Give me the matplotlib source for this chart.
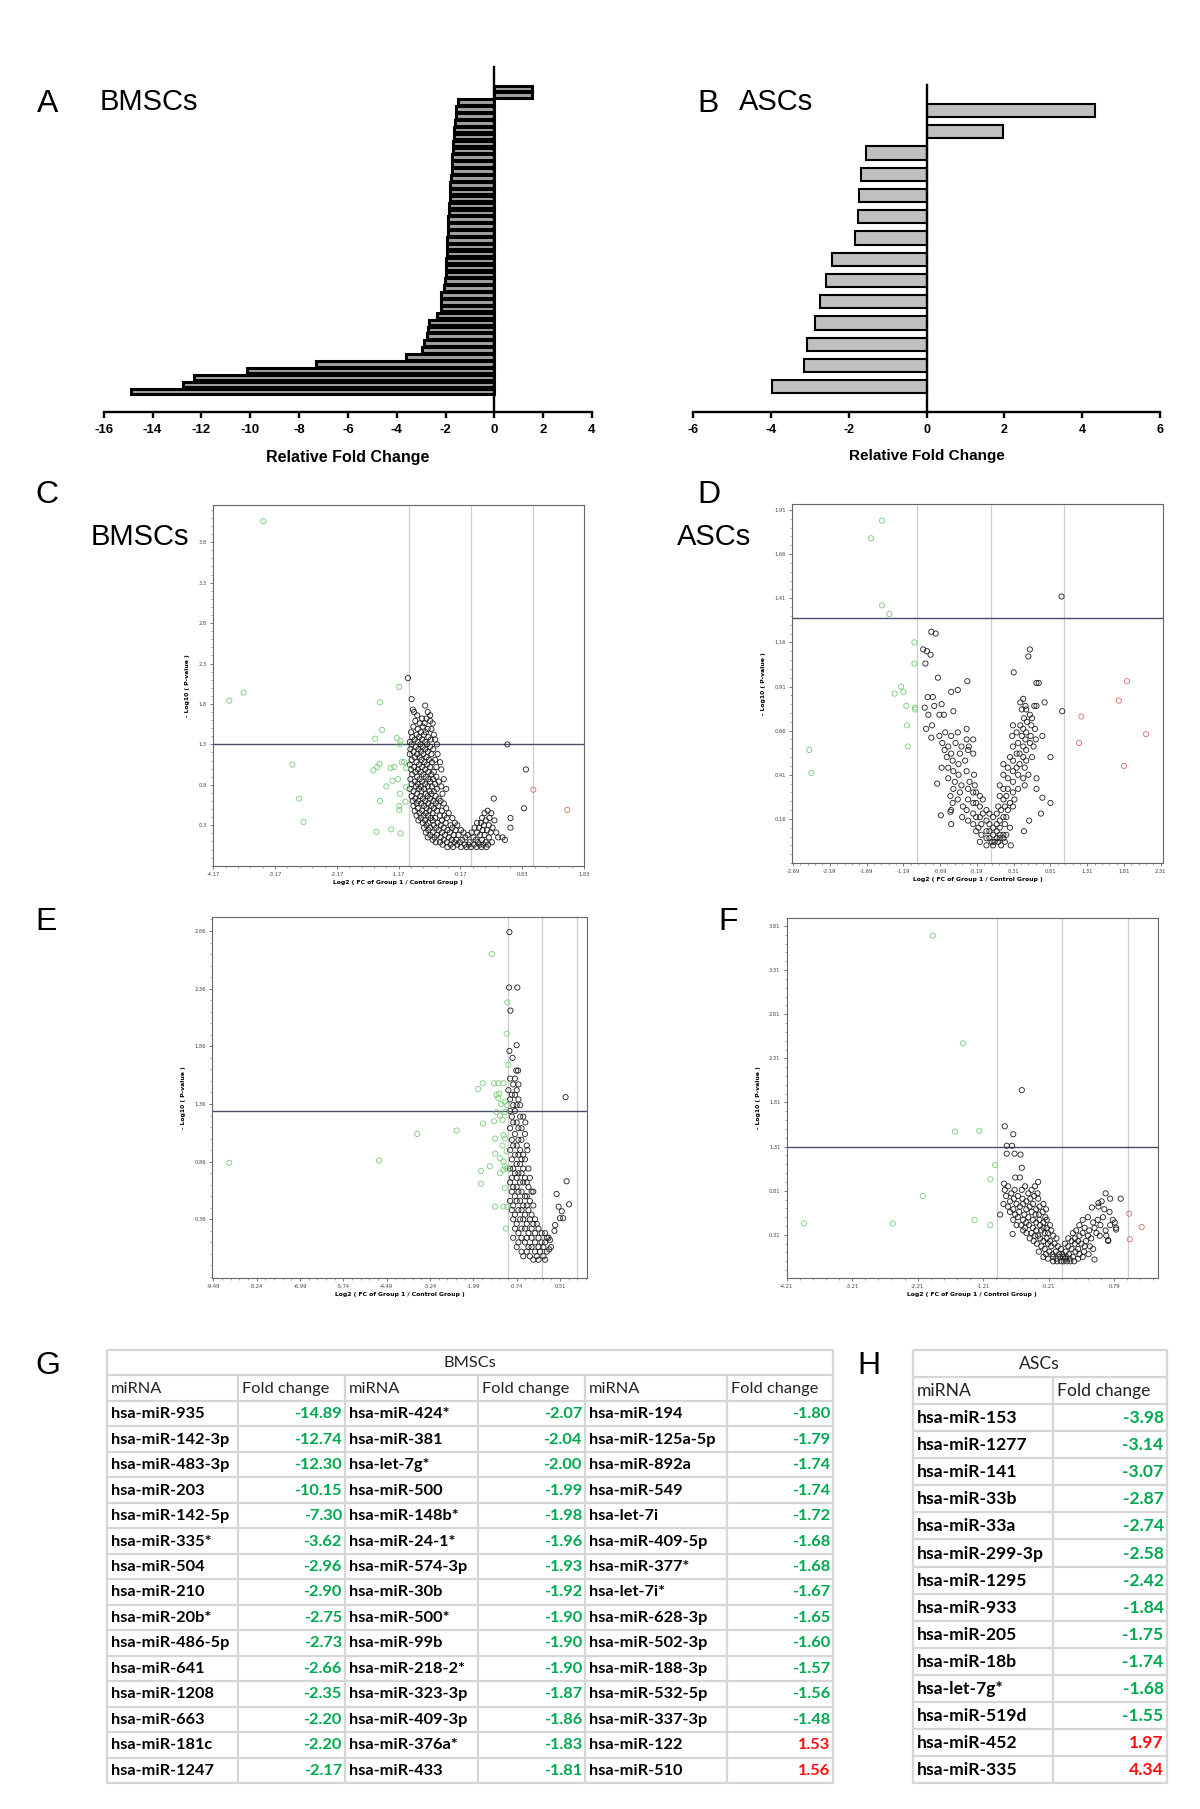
import matplotlib.pyplot as plt
from matplotlib.ticker import AutoMinorLocator, FixedLocator

# ── Table data (G: BMSCs, H: ASCs) ────────────────────────────────────────────
BMSC_MIRNA = [
    "hsa-miR-935", "hsa-miR-142-3p", "hsa-miR-483-3p", "hsa-miR-203", "hsa-miR-142-5p",
    "hsa-miR-335*", "hsa-miR-504", "hsa-miR-210", "hsa-miR-20b*", "hsa-miR-486-5p",
    "hsa-miR-641", "hsa-miR-1208", "hsa-miR-663", "hsa-miR-181c", "hsa-miR-1247",
    "hsa-miR-424*", "hsa-miR-381", "hsa-let-7g*", "hsa-miR-500", "hsa-miR-148b*",
    "hsa-miR-24-1*", "hsa-miR-574-3p", "hsa-miR-30b", "hsa-miR-500*", "hsa-miR-99b",
    "hsa-miR-218-2*", "hsa-miR-323-3p", "hsa-miR-409-3p", "hsa-miR-376a*", "hsa-miR-433",
    "hsa-miR-194", "hsa-miR-125a-5p", "hsa-miR-892a", "hsa-miR-549", "hsa-let-7i",
    "hsa-miR-409-5p", "hsa-miR-377*", "hsa-let-7i*", "hsa-miR-628-3p", "hsa-miR-502-3p",
    "hsa-miR-188-3p", "hsa-miR-532-5p", "hsa-miR-337-3p", "hsa-miR-122", "hsa-miR-510",
]
BMSC_FC = [
    -14.89, -12.74, -12.30, -10.15, -7.30, -3.62, -2.96, -2.90, -2.75, -2.73,
    -2.66, -2.35, -2.20, -2.20, -2.17,
    -2.07, -2.04, -2.00, -1.99, -1.98, -1.96, -1.93, -1.92, -1.90, -1.90,
    -1.90, -1.87, -1.86, -1.83, -1.81,
    -1.80, -1.79, -1.74, -1.74, -1.72, -1.68, -1.68, -1.67, -1.65, -1.60,
    -1.57, -1.56, -1.48, 1.53, 1.56,
]
ASC_MIRNA = [
    "hsa-miR-153", "hsa-miR-1277", "hsa-miR-141", "hsa-miR-33b", "hsa-miR-33a",
    "hsa-miR-299-3p", "hsa-miR-1295", "hsa-miR-933", "hsa-miR-205", "hsa-miR-18b",
    "hsa-let-7g*", "hsa-miR-519d", "hsa-miR-452", "hsa-miR-335",
]
ASC_FC = [-3.98, -3.14, -3.07, -2.87, -2.74, -2.58, -2.42, -1.84, -1.75, -1.74,
          -1.68, -1.55, 1.97, 4.34]

# ── Bar axes ticks ────────────────────────────────────────────────────────────
A_XTICKS = [-16, -14, -12, -10, -8, -6, -4, -2, 0, 2, 4]
B_XTICKS = [-6, -4, -2, 0, 2, 4, 6]

# ── Volcano C (BMSCs) ─────────────────────────────────────────────────────────
C_XTICKS = [-4.17, -3.17, -2.17, -1.17, -0.17, 0.83, 1.83]
C_YTICKS = [0.3, 0.8, 1.3, 1.8, 2.3, 2.8, 3.3, 3.8]
C_GREEN_X = [-3.36, -3.91, -3.68, -2.89, -2.78, -2.71, -1.16, -1.47, -1.44, -1.55, -1.20,
             -1.14, -1.15, -1.48, -1.52, -1.58, -1.30, -1.24, -1.12, -1.08, -1.05, -1.27,
             -1.18, -1.37, -1.05, -1.15, -1.47, -1.06, -1.16, -1.16, -1.53, -1.29, -1.14]
C_GREEN_Y = [4.06, 1.84, 1.94, 1.05, 0.63, 0.34, 2.01, 1.82, 1.48, 1.37, 1.38,
             1.34, 1.30, 1.06, 1.02, 0.98, 1.01, 1.02, 1.08, 1.08, 1.01, 0.85,
             0.87, 0.78, 0.77, 0.69, 0.60, 0.59, 0.54, 0.49, 0.22, 0.25, 0.20]
C_RED_X = [1.01, 1.56]
C_RED_Y = [0.74, 0.49]
C_BLACK_ROWS = [
    (2.12, [-1.02]), (1.86, [-0.96]), (1.78, [-0.74]), (1.73, [-0.94]),
    (1.70, [-0.92, -0.70]), (1.66, [-0.87, -0.66]), (1.62, [-0.79, -0.72]),
    (1.59, [-0.90, -0.66]), (1.56, [-0.83, -0.75, -0.62]), (1.52, [-0.93, -0.78]),
    (1.49, [-0.86, -0.70, -0.64]), (1.45, [-0.97, -0.81, -0.73]),
    (1.42, [-0.88, -0.76, -0.60]), (1.39, [-0.95, -0.84, -0.69]),
    (1.36, [-0.91, -0.79, -0.65, -0.58]), (1.33, [-0.99, -0.86, -0.74]),
    (1.30, [-0.96, -0.82, -0.71, -0.55, 0.59]), (1.27, [-0.89, -0.78, -0.66]),
    (1.24, [-0.98, -0.85, -0.74, -0.61]), (1.21, [-0.93, -0.81, -0.70]),
    (1.18, [-0.99, -0.87, -0.77, -0.64, -0.54]), (1.14, [-0.91, -0.83, -0.72]),
    (1.11, [-0.96, -0.80, -0.68, -0.58]), (1.08, [-0.88, -0.75, -0.63, -0.50]),
    (1.05, [-0.99, -0.84, -0.71]), (1.02, [-0.92, -0.79, -0.66, -0.56]),
    (0.99, [-0.97, -0.86, -0.74, -0.48, 0.89]), (0.96, [-0.90, -0.81, -0.69, -0.60]),
    (0.93, [-0.95, -0.77, -0.64]), (0.90, [-0.87, -0.73, -0.56]),
    (0.87, [-0.98, -0.83, -0.69, -0.61, -0.44]), (0.84, [-0.91, -0.79, -0.66, -0.52]),
    (0.81, [-0.96, -0.86, -0.74, -0.58]), (0.78, [-0.89, -0.81, -0.70, -0.63, -0.48]),
    (0.75, [-0.99, -0.84, -0.76, -0.55, -0.40]), (0.72, [-0.93, -0.80, -0.67, -0.60]),
    (0.69, [-0.87, -0.73, -0.64, -0.46]), (0.66, [-0.96, -0.82, -0.70, -0.57]),
    (0.63, [-0.90, -0.78, -0.66, -0.52, 0.37]), (0.60, [-0.94, -0.85, -0.74, -0.61, -0.49]),
    (0.57, [-0.88, -0.80, -0.69, -0.57, -0.44]), (0.54, [-0.93, -0.76, -0.64, -0.53]),
    (0.51, [-0.86, -0.72, -0.60, -0.40, 0.86]),
    (0.48, [-0.91, -0.79, -0.67, -0.55, -0.47, 0.27]),
    (0.45, [-0.83, -0.73, -0.62, -0.36, 0.22, 0.33]),
    (0.42, [-0.88, -0.77, -0.69, -0.50, -0.43]),
    (0.39, [-0.81, -0.65, -0.58, -0.39, -0.30, 0.18, 0.30, 0.64]),
    (0.36, [-0.85, -0.74, -0.62, -0.47, 0.24, 0.38]),
    (0.33, [-0.78, -0.69, -0.54, -0.41, -0.26, 0.10, 0.16]),
    (0.30, [-0.72, -0.60, -0.49, -0.33, -0.22, 0.21, 0.29]),
    (0.27, [-0.76, -0.66, -0.56, -0.44, -0.30, 0.06, 0.13, 0.35, 0.64]),
    (0.24, [-0.69, -0.52, -0.38, -0.25, -0.16, 0.19, 0.26]),
    (0.21, [-0.73, -0.62, -0.47, -0.34, -0.12, 0.01, 0.10, 0.32, 0.41]),
    (0.18, [-0.66, -0.55, -0.42, -0.28, -0.20, -0.05, 0.15, 0.22]),
    (0.15, [-0.70, -0.59, -0.49, -0.36, -0.09, 0.04, 0.29, 0.44, 0.51]),
    (0.12, [-0.62, -0.44, -0.31, -0.24, -0.14, 0.08, 0.18, 0.55]),
    (0.09, [-0.57, -0.50, -0.39, -0.27, -0.18, -0.02, 0.11, 0.24, 0.34]),
    (0.06, [-0.46, -0.33, -0.22, -0.10, -0.04, 0.05, 0.14, 0.20, 0.28]),
    (0.03, [-0.38, -0.29, -0.16, -0.07, 0.00, 0.09, 0.17, 0.25]),
]

# ── Volcano D (ASCs) ──────────────────────────────────────────────────────────
D_XTICKS = [-2.69, -2.19, -1.69, -1.19, -0.69, -0.19, 0.31, 0.81, 1.31, 1.81, 2.31]
D_YTICKS = [0.16, 0.41, 0.66, 0.91, 1.16, 1.41, 1.66, 1.91]
D_GREEN_X = [-1.48, -1.63, -1.48, -1.38, -1.04, -1.04, -1.22, -1.31, -1.19, -1.15, -1.03,
             -1.03, -1.14, -1.13, -2.47, -2.44]
D_GREEN_Y = [1.85, 1.75, 1.37, 1.32, 1.16, 1.04, 0.91, 0.87, 0.88, 0.80, 0.79,
             0.78, 0.69, 0.57, 0.55, 0.42]
D_RED_X = [1.85, 1.74, 1.23, 2.11, 1.20, 1.81]
D_RED_Y = [0.94, 0.83, 0.74, 0.64, 0.59, 0.46]
D_BLACK_X = [0.96, -0.81, -0.75, -0.92, -0.87, -0.82, -0.89, 0.53, 0.51, 0.31, -0.72, -0.32,
             0.62, 0.65, -0.54, -0.45, -0.86, -0.79, -0.67, -0.90, -0.77, 0.73, 0.59, 0.62,
             0.97, 0.81, -0.51, -0.64, -0.70, -0.85, -0.88, -0.80, -0.81, -0.73, -0.68, -0.54,
             -0.55, 0.68, 0.52, 0.45, 0.70, 0.81, 0.62]
D_BLACK_Y = [1.42, 1.22, 1.21, 1.12, 1.11, 1.09, 1.04, 1.12, 1.08, 0.99, 0.96, 0.94,
             0.93, 0.93, 0.88, 0.89, 0.85, 0.85, 0.81, 0.79, 0.80, 0.82, 0.80, 0.80,
             0.77, 0.51, 0.77, 0.75, 0.75, 0.75, 0.67, 0.69, 0.62, 0.36, 0.18, 0.13,
             0.20, 0.19, 0.15, 0.09, 0.28, 0.25, 0.33]
D_BLACK_ROWS = [
    (0.84, [0.44]), (0.82, [0.40]), (0.80, [0.47]), (0.78, [0.42, 0.48]), (0.75, [0.53]),
    (0.73, [0.45, 0.56]), (0.71, [0.49]), (0.69, [0.30, 0.40, 0.55]),
    (0.67, [-0.33, 0.44, 0.60]), (0.65, [-0.62, -0.45, 0.35, 0.48]),
    (0.63, [-0.70, -0.54, 0.29, 0.42, 0.54, 0.70]), (0.61, [-0.33, -0.24, 0.47, 0.61]),
    (0.59, [-0.66, -0.48, 0.37, 0.53]), (0.57, [-0.58, -0.40, -0.30, 0.30, 0.44, 0.58]),
    (0.55, [-0.63, -0.31, 0.48]), (0.53, [-0.54, -0.42, -0.24, 0.35, 0.39]),
    (0.51, [-0.60, 0.26, 0.44, 0.56]), (0.49, [-0.52, -0.35, 0.30, 0.48]),
    (0.47, [-0.44, 0.17, 0.39]), (0.45, [-0.67, -0.58, 0.23, 0.35, 0.46]),
    (0.43, [-0.51, -0.33, 0.30]), (0.41, [-0.44, -0.23, 0.17, 0.37, 0.51]),
    (0.39, [-0.58, 0.23, 0.44, 0.62]), (0.37, [-0.49, -0.29, 0.30]),
    (0.35, [-0.40, -0.22, 0.12, 0.46]), (0.33, [-0.51, -0.31, 0.17, 0.23, 0.37]),
    (0.31, [-0.42, -0.24, -0.20, 0.30]), (0.29, [-0.55, -0.15, 0.12, 0.21]),
    (0.27, [-0.45, -0.31, -0.11, 0.17, 0.32]), (0.25, [-0.52, -0.24, -0.20, 0.26]),
    (0.23, [-0.38, -0.15, 0.10, 0.19, 0.30]), (0.21, [-0.54, -0.33, -0.06, 0.14, 0.23]),
    (0.19, [-0.24, -0.11, -0.02, 0.08]), (0.17, [-0.39, -0.20, -0.15, 0.03, 0.17, 0.21]),
    (0.15, [-0.31, -0.06, 0.12]), (0.13, [-0.24, -0.13, -0.02, 0.08, 0.19]),
    (0.11, [-0.17, 0.03, 0.12, 0.26]), (0.09, [-0.20, -0.06, -0.02, 0.08]),
    (0.07, [-0.13, 0.03, 0.12, 0.17, 0.21]), (0.05, [-0.06, -0.02, 0.08, 0.12, 0.17]),
    (0.03, [-0.15, 0.01, 0.05, 0.10, 0.19]), (0.01, [-0.06, 0.03, 0.14, 0.27]),
]

# ── Volcano E (BMSCs) ─────────────────────────────────────────────────────────
E_XTICKS = [-9.49, -8.24, -6.99, -5.74, -4.49, -3.24, -1.99, -0.74, 0.51]
E_YTICKS = [0.36, 0.86, 1.36, 1.86, 2.36, 2.86]
E_GREEN_X = [-1.46, -1.01, -1.03, -0.98, -9.03, -4.71, -3.61, -2.47, -1.85, -1.72, -1.71,
             -1.39, -1.27, -1.12, -1.32, -1.24, -1.27, -1.19, -1.08, -1.01, -1.08, -1.32,
             -1.22, -1.15, -1.39, -1.12, -1.07, -1.36, -1.15, -1.03, -1.36, -1.22, -1.51,
             -1.12, -1.08, -1.03, -1.12, -1.77, -1.22, -1.77, -1.08, -1.36, -1.12, -1.05,
             -1.01]
E_GREEN_Y = [2.66, 2.24, 1.97, 1.70, 0.85, 0.87, 1.10, 1.13, 1.49, 1.54, 1.19,
             1.54, 1.54, 1.54, 1.44, 1.45, 1.41, 1.36, 1.38, 1.35, 1.29, 1.29,
             1.26, 1.22, 1.21, 1.09, 1.06, 1.06, 1.00, 0.95, 0.93, 0.89, 0.82,
             0.86, 0.82, 0.80, 0.79, 0.78, 0.76, 0.67, 0.63, 0.47, 0.47, 0.28,
             0.47]
E_BLACK_X = [-0.95, -0.96, -0.72, -0.92, -0.74, -0.95, -0.86, -0.75, -0.70, 0.67, 0.70,
             0.41, 0.77, 0.47, 0.56, 0.51, 0.60, 0.37, 0.35, 0.18, 0.22, 0.20, 0.25]
E_BLACK_Y = [2.85, 2.37, 2.37, 2.17, 1.87, 1.82, 1.76, 1.65, 1.65, 1.42, 0.69,
             0.58, 0.49, 0.47, 0.43, 0.37, 0.37, 0.31, 0.26, 0.20, 0.18, 0.10, 0.12]
E_BLACK_ROWS = [
    (1.58, [-0.93, -0.79]), (1.53, [-0.84, -0.69]), (1.48, [-0.98, -0.74]),
    (1.44, [-0.88, -0.79]), (1.40, [-0.93, -0.69]), (1.35, [-0.84, -0.74, -0.64]),
    (1.30, [-0.93, -0.79]), (1.25, [-0.88, -0.64, -0.55]), (1.20, [-0.84, -0.74, -0.49]),
    (1.15, [-0.93, -0.69, -0.60]), (1.10, [-0.79, -0.50]), (1.05, [-0.88, -0.69, -0.60]),
    (1.00, [-0.84, -0.74, -0.45]), (0.96, [-0.93, -0.64, -0.43]),
    (0.92, [-0.79, -0.69, -0.55]), (0.88, [-0.88, -0.60, -0.50]), (0.84, [-0.74, -0.64]),
    (0.80, [-0.93, -0.84, -0.55, -0.40]), (0.76, [-0.79, -0.69, -0.60]),
    (0.72, [-0.88, -0.74, -0.50, -0.36]), (0.68, [-0.93, -0.64, -0.55, -0.45]),
    (0.64, [-0.84, -0.74, -0.40]), (0.60, [-0.88, -0.69, -0.60, -0.31, -0.26]),
    (0.56, [-0.79, -0.50, -0.45]), (0.52, [-0.93, -0.74, -0.64, -0.36]),
    (0.48, [-0.84, -0.55, -0.45, -0.26]), (0.44, [-0.88, -0.69, -0.60, -0.40]),
    (0.40, [-0.79, -0.50, -0.31]), (0.36, [-0.84, -0.64, -0.55, -0.36, -0.21]),
    (0.32, [-0.74, -0.45, -0.26, -0.16]), (0.28, [-0.79, -0.60, -0.50, -0.31, -0.11]),
    (0.24, [-0.69, -0.40, -0.21, -0.02, 0.08]),
    (0.20, [-0.84, -0.60, -0.45, -0.31, -0.11, 0.13]),
    (0.16, [-0.69, -0.50, -0.21, -0.02, 0.08]), (0.12, [-0.74, -0.40, -0.31, -0.11, 0.03]),
    (0.08, [-0.60, -0.45, -0.21, -0.07, 0.13]), (0.04, [-0.55, -0.36, -0.16, 0.03]),
    (0.01, [-0.26, -0.11, 0.08]),
]

# ── Volcano F (ASCs) ──────────────────────────────────────────────────────────
F_XTICKS = [-4.21, -3.21, -2.21, -1.21, -0.21, 0.79]
F_YTICKS = [0.31, 0.81, 1.31, 1.81, 2.31, 2.81, 3.31, 3.81]
F_GREEN_X = [-1.98, -1.52, -1.64, -1.27, -1.03, -1.10, -2.13, -3.95, -2.59, -1.34, -1.10]
F_GREEN_Y = [3.70, 2.48, 1.48, 1.49, 1.10, 0.94, 0.75, 0.44, 0.44, 0.48, 0.42]
F_RED_X = [1.02, 1.21, 1.03]
F_RED_Y = [0.55, 0.40, 0.26]
F_BLACK_X = [-0.62, -0.88, -0.75, -0.85, -0.77, -0.85, -0.73, -0.64, -0.62, -0.72, -0.65,
             -0.89, -0.37, -0.76, 0.55, 0.45, 0.82, 0.70, 0.49, -0.95]
F_BLACK_Y = [1.95, 1.54, 1.45, 1.32, 1.32, 1.23, 1.23, 1.22, 1.07, 0.96, 0.96,
             0.89, 0.91, 0.32, 0.67, 0.62, 0.37, 0.25, 0.03, 0.54]
F_BLACK_ROWS = [
    (0.86, [-0.83, -0.57, -0.42]), (0.82, [-0.88, -0.73, -0.62, -0.47]),
    (0.78, [-0.78, -0.52, -0.38, 0.66]), (0.75, [-0.86, -0.68, -0.43]),
    (0.72, [-0.74, -0.61, -0.49, -0.37, 0.73, 0.89]), (0.69, [-0.80, -0.55, 0.60]),
    (0.66, [-0.90, -0.70, -0.60, -0.45, -0.29]), (0.63, [-0.83, -0.65, -0.50, -0.35, 0.55]),
    (0.60, [-0.75, -0.55, -0.40, -0.25, 0.64]), (0.57, [-0.80, -0.66, -0.47, -0.30, 0.72]),
    (0.54, [-0.72, -0.58, -0.41, -0.36]), (0.51, [-0.68, -0.52, -0.26, 0.39, 0.62]),
    (0.48, [-0.75, -0.60, -0.45, -0.35, -0.24, 0.31, 0.54, 0.77]),
    (0.45, [-0.55, -0.40, -0.29, 0.47, 0.80]),
    (0.42, [-0.70, -0.63, -0.51, -0.34, -0.19, 0.26, 0.58, 0.73]),
    (0.39, [-0.57, -0.45, -0.29, -0.24, 0.34, 0.49, 0.82]),
    (0.36, [-0.60, -0.40, -0.32, -0.17, 0.21, 0.41, 0.66]),
    (0.33, [-0.55, -0.47, -0.27, -0.22, 0.16, 0.31, 0.52]),
    (0.30, [-0.42, -0.37, -0.14, 0.26, 0.39, 0.57, 0.67]),
    (0.27, [-0.50, -0.34, -0.24, -0.09, 0.09, 0.19, 0.44]),
    (0.24, [-0.44, -0.29, -0.19, 0.14, 0.24, 0.36, 0.70]),
    (0.21, [-0.39, -0.22, -0.12, 0.04, 0.19, 0.29]),
    (0.18, [-0.32, -0.17, -0.07, 0.09, 0.34, 0.42]),
    (0.15, [-0.27, -0.02, 0.14, 0.24, 0.47]),
    (0.12, [-0.36, -0.20, -0.10, 0.05, 0.20, 0.33]),
    (0.09, [-0.25, -0.15, -0.05, 0.00, 0.10, 0.26, 0.40]),
    (0.06, [-0.29, -0.14, -0.04, 0.01, 0.06, 0.16, 0.31]),
    (0.04, [-0.22, -0.09, 0.04, 0.11, 0.24]),
    (0.01, [-0.14, -0.08, -0.02, 0.02, 0.07, 0.12, 0.18]),
]

# ── Style ─────────────────────────────────────────────────────────────────────
W, H = 1200, 1809
GREEN_TXT = "#00a850"
RED_TXT = "#ff1010"
GRID = "#d6d6d6"

plt.rcParams.update({
    "font.family": "Liberation Sans",
    "axes.unicode_minus": False,
    "figure.facecolor": "white",
})


def px_rect(left, top, right, bottom):
    """Figure-fraction rect from pixel box (origin top-left)."""
    return [left / W, 1 - bottom / H, (right - left) / W, (bottom - top) / H]


def expand_rows(rows):
    xs, ys = [], []
    for y, row in rows:
        xs.extend(row)
        ys.extend([y] * len(row))
    return xs, ys


def bar_panel(fig, rect, values, xticks, ylim, face, height, lw, tick_size, label_size):
    ax = fig.add_axes(rect)
    ax.patch.set_alpha(0)
    vals = sorted(values, reverse=True)
    ax.barh(range(len(vals)), vals, height=height, color=face,
            edgecolor="black", linewidth=lw, zorder=2)
    ax.set_xlim(xticks[0], xticks[-1])
    ax.set_ylim(*ylim)
    ax.spines[["top", "right"]].set_visible(False)
    ax.spines["left"].set_position(("data", 0))
    for s in ("left", "bottom"):
        ax.spines[s].set_linewidth(1.7)
    ax.set_yticks([])
    ax.set_xticks(xticks)
    ax.set_xticklabels([str(t) for t in xticks], fontweight="bold")
    ax.tick_params(axis="x", length=4.5, width=1.7, labelsize=tick_size, pad=4)
    ax.set_xlabel("Relative Fold Change", fontsize=label_size, fontweight="bold",
                  labelpad=10)
    return ax


def volcano(fig, rect, xlim, ylim, xticks, yticks, green, red, black, rows):
    ax = fig.add_axes(rect)
    for v in (-1, 0, 1):
        ax.axvline(v, color="#cdcdcd", lw=0.9, zorder=0)
    ax.axhline(1.30, color="#4a4d6a", lw=1.0, zorder=1)
    bx, by = expand_rows(rows)
    bx = bx + list(black[0])
    by = by + list(black[1])
    kw = dict(s=14, facecolors="none", linewidths=0.6, zorder=3)
    ax.scatter(bx, by, edgecolors="#1c1c1c", **kw)
    ax.scatter(green[0], green[1], edgecolors="#78cc78", **kw)
    if red:
        ax.scatter(red[0], red[1], edgecolors="#dd6b6b", **kw)
    ax.set_xlim(*xlim)
    ax.set_ylim(*ylim)
    ax.xaxis.set_major_locator(FixedLocator(xticks))
    ax.yaxis.set_major_locator(FixedLocator(yticks))
    ax.set_xticklabels([f"{t:g}" for t in xticks])
    ax.set_yticklabels([f"{t:g}" for t in yticks])
    ax.xaxis.set_minor_locator(AutoMinorLocator(5))
    ax.yaxis.set_minor_locator(AutoMinorLocator(5))
    ax.tick_params(which="major", length=2.5, width=0.5, labelsize=3.7,
                   colors="#444444", pad=2)
    ax.tick_params(which="minor", length=1.2, width=0.4, colors="#666666")
    for s in ax.spines.values():
        s.set_color("#666666")
        s.set_linewidth(0.8)
    ax.set_xlabel("Log2 ( FC of Group 1 / Control Group )", fontsize=4.4,
                  fontweight="bold", family="DejaVu Sans", labelpad=2)
    ax.set_ylabel("- Log10 ( P-value )", fontsize=4.4, fontweight="bold",
                  family="DejaVu Sans", labelpad=6)
    for t in ax.get_xticklabels() + ax.get_yticklabels():
        t.set_family("DejaVu Sans")
    return ax


def draw_table(fig, rect, edges, title, blocks, n_rows, fsize):
    width = edges[-1]
    ax = fig.add_axes(rect)
    ax.set_xlim(0, width)
    ax.set_ylim(n_rows + 2, 0)
    ax.axis("off")
    line = dict(color=GRID, lw=1.6, solid_capstyle="butt", clip_on=False)
    ax.plot([0, width, width, 0, 0], [0, 0, n_rows + 2, n_rows + 2, 0], **line)
    for r in range(1, n_rows + 2):
        ax.plot([0, width], [r, r], **line)
    for e in edges[1:-1]:
        ax.plot([e, e], [1, n_rows + 2], **line)
    font = dict(family="Lato", fontsize=fsize, va="center")
    ax.text(width / 2, 0.52, title, ha="center", color="#222222", **font)
    for b, (names, vals) in enumerate(blocks):
        left, mid, right = edges[2 * b], edges[2 * b + 1], edges[2 * b + 2]
        ax.text(left + 4, 1.52, "miRNA", ha="left", color="#222222", **font)
        ax.text(mid + 4, 1.52, "Fold change", ha="left", color="#222222", **font)
        for r, (name, val) in enumerate(zip(names, vals)):
            y = r + 2.52
            ax.text(left + 4, y, name, ha="left", color="black",
                    fontweight="bold", **font)
            ax.text(right - 3, y, f"{val:.2f}", ha="right",
                    color=GREEN_TXT if val < 0 else RED_TXT, fontweight="bold", **font)
    return ax


def panel_label(fig, x, y, text, size):
    fig.text(x / W, 1 - y / H, text, fontsize=size, ha="left", va="center",
             family="Liberation Sans")


# ── Figure ────────────────────────────────────────────────────────────────────
fig = plt.figure(figsize=(W / 100, H / 100), dpi=100)

# A / B: fold-change bars
bar_panel(fig, px_rect(103.8, 67, 592, 412), BMSC_FC, A_XTICKS,
          (47.0, -3.1), "#a0a0a0", 0.8, 2.2, 9.5, 11.5)
bar_panel(fig, px_rect(693, 85, 1160, 411.7), ASC_FC, B_XTICKS,
          (14.17, -1.2), "#c0c0c0", 0.62, 1.5, 9.0, 11.0)

# C-F: volcano plots
volcano(fig, px_rect(212.7, 505, 584, 865.7), (-4.18, 1.83), (-0.2, 4.26),
        C_XTICKS, C_YTICKS, (C_GREEN_X, C_GREEN_Y), (C_RED_X, C_RED_Y),
        ([], []), C_BLACK_ROWS)
volcano(fig, px_rect(792.3, 504, 1163, 863), (-2.70, 2.34), (-0.09, 1.944),
        D_XTICKS, D_YTICKS, (D_GREEN_X, D_GREEN_Y), (D_RED_X, D_RED_Y),
        (D_BLACK_X, D_BLACK_Y), D_BLACK_ROWS)
volcano(fig, px_rect(212.3, 916.7, 586.7, 1277.7), (-9.52, 1.28), (-0.146, 2.984),
        E_XTICKS, E_YTICKS, (E_GREEN_X, E_GREEN_Y), None,
        (E_BLACK_X, E_BLACK_Y), E_BLACK_ROWS)
volcano(fig, px_rect(786.7, 917.7, 1158, 1278), (-4.21, 1.46), (-0.179, 3.904),
        F_XTICKS, F_YTICKS, (F_GREEN_X, F_GREEN_Y), (F_RED_X, F_RED_Y),
        (F_BLACK_X, F_BLACK_Y), F_BLACK_ROWS)

# G / H: tables
g_blocks = [(BMSC_MIRNA[i:i + 15], BMSC_FC[i:i + 15]) for i in (0, 15, 30)]
draw_table(fig, px_rect(106.7, 1350, 833.3, 1783),
           [0, 131.6, 238.3, 371.6, 478.3, 620.0, 726.6], "BMSCs", g_blocks, 15, 11.8)
draw_table(fig, px_rect(912.7, 1350, 1166.7, 1783), [0, 140.6, 254.0], "ASCs",
           [(ASC_MIRNA, ASC_FC)], 14, 12.6)

# Panel letters and titles
for x, y, t in [(37, 104, "A"), (697, 104, "B"), (35, 495, "C"), (697, 495, "D"),
                (35, 922, "E"), (718, 922, "F"), (35, 1366, "G"), (857, 1366, "H")]:
    panel_label(fig, x, y, t, 23)
panel_label(fig, 100, 102, "BMSCs", 21)
panel_label(fig, 739, 102, "ASCs", 21)
panel_label(fig, 91, 537, "BMSCs", 21)
panel_label(fig, 677, 537, "ASCs", 21)

fig.savefig("out.png", dpi=100, facecolor="white")
